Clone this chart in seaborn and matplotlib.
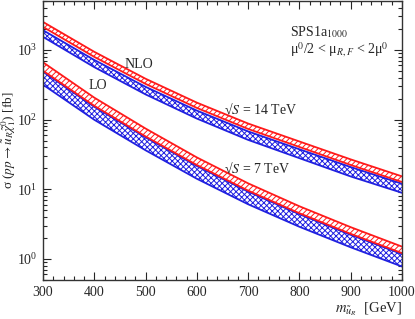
import numpy as np
import pandas as pd
import matplotlib
matplotlib.use("Agg")
import matplotlib.pyplot as plt
import seaborn as sns
from matplotlib.ticker import MultipleLocator, LogLocator, NullFormatter

# ---- data ----
mass = [300, 400, 500, 600, 700, 800, 900, 1000]  # GeV

nlo14_hi = [2506, 934, 384, 174.5, 87.5, 48.4, 26.8, 15.3]
nlo14_lo = [2126, 790, 324, 146.6, 73.2, 40.4, 22.3, 12.7]
lo14_hi = [1907, 714, 294, 134.2, 67.5, 37.4, 20.8, 12.0]
lo14_lo = [1530, 563, 229, 103.1, 51.0, 27.9, 15.25, 8.89]

nlo7_hi = [661, 205.8, 74.2, 28.6, 12.15, 5.70, 2.86, 1.505]
nlo7_lo = [500, 157.1, 57.2, 22.27, 9.56, 4.53, 2.293, 1.215]
lo7_hi = [484, 152.0, 55.4, 21.54, 9.25, 4.385, 2.219, 1.176]
lo7_lo = [315.5, 99.1, 36.2, 14.14, 6.09, 2.897, 1.471, 0.780]

sns.set_style("ticks")
plt.rcParams["font.family"] = ["Liberation Serif", "DejaVu Serif"]
plt.rcParams["mathtext.fontset"] = "stix"
plt.rcParams["hatch.linewidth"] = 0.7

fig = plt.figure(figsize=(4.15, 3.19), dpi=100)
ax = fig.add_axes([43 / 415, 39 / 319, 359 / 415, 279 / 319])

bands = [
    (lo14_lo, lo14_hi, "#2020e0", "xxxxxx"),
    (nlo14_lo, nlo14_hi, "#ff1a1a", "//////"),
    (lo7_lo, lo7_hi, "#2020e0", "xxxxxx"),
    (nlo7_lo, nlo7_hi, "#ff1a1a", "//////"),
]
for lo, hi, col, hatch in bands:
    ax.fill_between(mass, lo, hi, facecolor="white", edgecolor=col,
                    hatch=hatch, linewidth=0)
    df = pd.DataFrame({"m": mass + mass,
                       "s": lo + hi,
                       "edge": ["lo"] * len(mass) + ["hi"] * len(mass)})
    sns.lineplot(data=df, x="m", y="s", units="edge", estimator=None,
                 color=col, lw=1.3, ax=ax, legend=False)

ax.set_yscale("log")
ax.set_xlim(300, 1000)
ax.set_ylim(0.5, 5000)

ax.xaxis.set_major_locator(MultipleLocator(100))
ax.xaxis.set_minor_locator(MultipleLocator(20))
ax.yaxis.set_major_locator(LogLocator(base=10, numticks=10))
ax.yaxis.set_minor_locator(LogLocator(base=10, subs=np.arange(2, 10), numticks=20))
ax.yaxis.set_minor_formatter(NullFormatter())
ax.tick_params(which="both", direction="in", top=True, right=True,
               labelsize=10, width=0.8, pad=4)
ax.tick_params(which="major", length=6)
ax.tick_params(which="minor", length=3)
for sp in ax.spines.values():
    sp.set_linewidth(1.0)
    sp.set_color("#333333")

ax.set_xlabel(r"$m_{\tilde{u}_R}$  [GeV]", fontsize=10.5, loc="right", labelpad=1)
ax.set_ylabel(r"σ ($pp \rightarrow \tilde{u}_R\tilde{\chi}_1^0$) [fb]", fontsize=9.5)
ax.yaxis.set_label_coords(-0.069, 0.5)

ax.text(487, 609, "NLO", fontsize=10, ha="center", va="center")
ax.text(407, 305, "LO", fontsize=10, ha="center", va="center")
ax.text(725, 139, "√$S$ = 14 TeV", fontsize=10, ha="center", va="center")
ax.text(717, 19.9, "√$S$ = 7 TeV", fontsize=10, ha="center", va="center")
ax.text(0.688, 0.889, r"SPS1a$_{1000}$", fontsize=10, ha="left", va="center",
        transform=ax.transAxes)
ax.text(0.688, 0.825, r"μ$^0$/2 < μ$_{R,F}$ < 2μ$^0$",
        fontsize=10, ha="left", va="center", transform=ax.transAxes)

fig.savefig("out.png", dpi=100)
